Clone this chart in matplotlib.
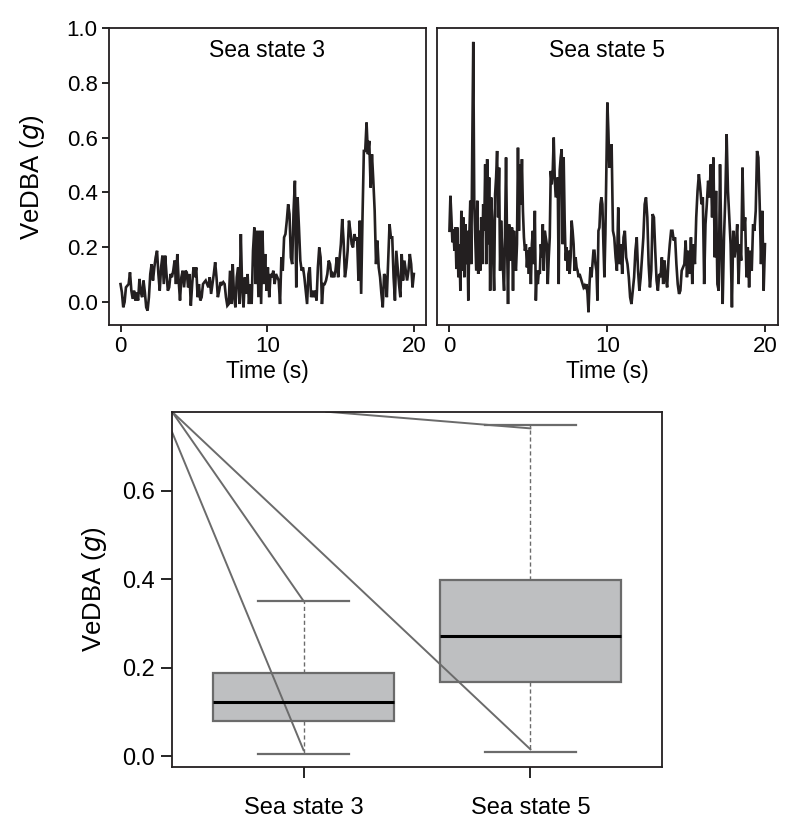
import numpy as np
import matplotlib
matplotlib.use("Agg")
import matplotlib.pyplot as plt

plt.rcParams['font.family'] = ['Liberation Sans', 'DejaVu Sans']

# --- VeDBA time series (g) ---
ss3_vedba = [
    0.064, 0.034, -0.021, -0.002, 0.052, 0.058, 0.064, 0.107, 0.040, 0.010,
    0.040, 0.004, 0.034, 0.004, 0.083, 0.034, 0.016, 0.077, 0.034, -0.021,
    -0.033, 0.016, 0.101, 0.137, 0.077, 0.125, 0.162, 0.186, 0.101, 0.040,
    0.125, 0.168, 0.064, 0.168, 0.101, 0.040, 0.052, 0.101, 0.089, 0.113,
    0.150, 0.064, 0.174, 0.077, 0.004, 0.089, 0.113, 0.052, 0.113, 0.107,
    0.052, 0.101, -0.015, 0.064, 0.125, 0.089, 0.125, 0.016, 0.064, 0.004,
    0.016, 0.064, 0.071, 0.077, 0.064, 0.052, 0.089, 0.028, 0.064, 0.101,
    0.144, 0.089, 0.016, 0.040, 0.071, 0.064, 0.071, 0.064, 0.016, -0.015,
    -0.009, 0.113, -0.009, 0.137, 0.016, -0.021, 0.089, 0.125, -0.009, 0.247,
    0.040, -0.021, 0.089, 0.028, 0.101, -0.009, 0.064, -0.009, 0.186, 0.271,
    0.064, 0.259, 0.016, 0.259, -0.009, 0.259, 0.064, 0.174, 0.040, 0.125,
    0.016, 0.101, 0.089, 0.113, 0.064, 0.101, 0.089, 0.077, -0.009, 0.162,
    0.113, 0.235, 0.247, 0.296, 0.356, 0.320, 0.162, 0.137, 0.332, 0.442,
    0.052, 0.381, 0.271, 0.150, 0.113, 0.125, 0.089, 0.040, -0.009, 0.101,
    0.125, 0.016, 0.040, 0.016, 0.040, 0.004, 0.125, 0.198, 0.162, -0.009,
    0.064, 0.064, 0.077, 0.101, 0.150, 0.137, 0.089, 0.101, 0.089, 0.113,
    0.162, 0.089, 0.156, 0.210, 0.302, 0.223, 0.089, 0.125, 0.186, 0.296,
    0.259, 0.210, 0.198, 0.247, 0.223, 0.235, 0.077, 0.296, 0.028, 0.308,
    0.551, 0.551, 0.655, 0.539, 0.588, 0.417, 0.539, 0.442, 0.332, 0.137,
    0.223, 0.125, 0.089, 0.028, -0.021, 0.101, 0.089, 0.016, 0.150, 0.283,
    0.235, 0.235, 0.089, 0.004, 0.186, 0.125, 0.064, 0.016, 0.174, 0.077,
    0.150, 0.113, 0.077, 0.113, 0.174, 0.137, 0.052, 0.101,
]

# sea state 5, first ~10 s
ss5_vedba_a = [
    0.259, 0.387, 0.308, 0.217, 0.265, 0.186, 0.271, 0.119, 0.271, 0.089,
    0.210, 0.040, 0.332, 0.113, 0.308, 0.089, 0.283, 0.137, 0.259, 0.004,
    0.235, 0.369, 0.137, 0.569, 0.950, 0.356, 0.235, 0.113, 0.369, 0.101,
    0.259, 0.113, 0.308, 0.137, 0.356, 0.259, 0.502, 0.137, 0.521, 0.210,
    0.454, 0.040, 0.381, 0.308, 0.162, 0.040, 0.393, 0.454, 0.551, 0.308,
    0.490, 0.113, 0.296, 0.198, 0.113, 0.040, 0.259, 0.527, 0.223, -0.009,
    0.283, 0.259, 0.150, 0.271, 0.040, 0.259, 0.137, 0.113, 0.210, 0.563,
    0.259, 0.502, 0.356, 0.521, 0.332, 0.235, 0.186, 0.210, 0.125, 0.186,
    0.101, 0.198, 0.064, 0.210, 0.259, 0.137, 0.332, 0.004, 0.113, 0.064,
    0.113, 0.101, 0.210, 0.162, 0.283, 0.113, 0.259, 0.235, 0.210, 0.064,
    0.162, 0.235, 0.478, 0.429, 0.478, 0.600, 0.454, 0.381, 0.417, 0.454,
    0.064, 0.478, 0.527, 0.557, 0.210, 0.527, 0.296, 0.150, 0.198, 0.113,
    0.186, 0.101, 0.162, 0.296, 0.259, 0.210, 0.113, 0.162, 0.125, 0.113,
    0.089, 0.101, 0.089, 0.077, 0.064, 0.052, 0.058, 0.046, 0.064, 0.028,
    -0.039, 0.064, 0.125, 0.089, 0.137, 0.186, 0.186, 0.137, 0.113, 0.004,
    0.259, 0.271, 0.356, 0.381, 0.356, 0.210, 0.089, 0.247, 0.478, 0.728,
    0.624, 0.490, 0.502,
]
# sea state 5, second ~10 s
ss5_vedba_b = [
    0.575, 0.259, 0.235, 0.162, 0.113, 0.344, 0.137, 0.210, 0.101, 0.235,
    0.259, 0.162, 0.137, 0.089, 0.016, -0.009, 0.040, 0.089, 0.186, 0.235,
    0.113, 0.040, 0.089, 0.162, 0.235, 0.356, 0.381, 0.308, 0.137, 0.052,
    0.113, 0.320, 0.308, 0.186, 0.077, 0.040, 0.101, 0.089, 0.162, 0.064,
    0.150, 0.089, 0.052, 0.150, 0.210, 0.259, 0.259, 0.223, 0.235, 0.137,
    0.064, 0.028, 0.040, 0.113, 0.125, 0.137, 0.223, 0.089, 0.186, 0.101,
    0.235, 0.064, 0.210, 0.137, 0.308, 0.405, 0.466, 0.417, 0.356, 0.381,
    0.064, 0.283, 0.356, 0.442, 0.381, 0.502, 0.308, 0.527, 0.162, 0.405,
    0.064, 0.040, 0.502, 0.210, -0.009, 0.235, 0.381, 0.612, 0.405, 0.308,
    0.210, -0.021, 0.259, 0.162, 0.210, 0.283, 0.064, 0.210, 0.150, 0.490,
    0.259, 0.308, 0.089, 0.198, 0.052, 0.186, 0.113, 0.283, 0.259, 0.332,
    0.551, 0.527, 0.356, 0.137, 0.332, 0.040, 0.210,
]

# --- box plot summary (g) ---
groups = ["Sea state 3", "Sea state 5"]
whisker_low = [0.006, 0.010]
q1 = [0.081, 0.167]
median = [0.123, 0.271]
q3 = [0.188, 0.398]
whisker_high = [0.351, 0.749]

t3 = np.linspace(0, 20, len(ss3_vedba))
t5 = np.concatenate([np.linspace(0, 10.2, len(ss5_vedba_a)),
                     np.linspace(10.28, 20.0, len(ss5_vedba_b))])
v5 = ss5_vedba_a + ss5_vedba_b

fig = plt.figure(figsize=(8, 8.3), dpi=100)
ax1 = fig.add_axes([0.136, 0.608, 0.396, 0.358])
ax2 = fig.add_axes([0.546, 0.608, 0.426, 0.358])
ax3 = fig.add_axes([0.215, 0.076, 0.6125, 0.428])

line_col = "#231f20"
for ax, t, v, title in [(ax1, t3, ss3_vedba, "Sea state 3"),
                        (ax2, t5, v5, "Sea state 5")]:
    ax.plot(t, v, color=line_col, lw=1.9, solid_joinstyle="miter")
    ax.set_xlim(-0.8, 20.8)
    ax.set_ylim(-0.087, 1.0)
    ax.set_xticks([0, 10, 20])
    ax.text(0.5, 0.925, title, transform=ax.transAxes, ha="center",
            va="center", fontsize=16.5)
    ax.set_xlabel("Time (s)", fontsize=16.5, labelpad=2)
    ax.tick_params(axis="x", direction="out", length=5, width=1.2,
                   labelsize=16, pad=3)
    for s in ax.spines.values():
        s.set_linewidth(1.3)
        s.set_color(line_col)

ax1.set_yticks([0.0, 0.2, 0.4, 0.6, 0.8, 1.0])
ax1.set_yticklabels(["0.0", "0.2", "0.4", "0.6", "0.8", "1.0"])
ax1.tick_params(axis="y", direction="out", length=5, width=1.2,
                labelsize=16, pad=3)
ax1.set_ylabel("VeDBA ($\\it{g}$)", fontsize=18.5, labelpad=14)
ax2.set_yticks([])

# --- box plot ---
stats = []
for i in range(len(groups)):
    stats.append(dict(whislo=whisker_low[i], q1=q1[i], med=median[i],
                      q3=q3[i], whishi=whisker_high[i], label=groups[i]))
box_edge = "#6b6b6b"
ax3.bxp(stats, positions=[1, 2], widths=0.8, patch_artist=True,
        showfliers=False,
        boxprops=dict(facecolor="#bebfc1", edgecolor=box_edge, lw=1.6),
        medianprops=dict(color="black", lw=2.2),
        whiskerprops=dict(color=box_edge, lw=1.0, ls=(0, (3, 2))),
        capprops=dict(color=box_edge, lw=1.6), capwidths=0.4)

rng = max(whisker_high) - min(whisker_low)
y_lo = min(whisker_low) - 0.04 * rng
y_hi = max(whisker_high) + 0.04 * rng
ax3.set_xlim(0.42, 2.58)
ax3.set_ylim(y_lo, y_hi)

# stray grey lines from the top-left corner to the whisker ends
x0 = 0.42
ax3.plot([x0, 1], [y_hi, whisker_high[0]], color=box_edge, lw=1.4)
ax3.plot([x0, 1], [0.733, whisker_low[0] + 0.008], color=box_edge, lw=1.4)
ax3.plot([x0, 2], [y_hi, whisker_low[1] + 0.006], color=box_edge, lw=1.4)
ax3.plot([1.1, 2], [y_hi, whisker_high[1] - 0.008], color=box_edge, lw=1.4)

ax3.set_yticks([0.0, 0.2, 0.4, 0.6])
ax3.set_yticklabels(["0.0", "0.2", "0.4", "0.6"])
ax3.tick_params(axis="both", direction="out", length=8, width=1.2,
                labelsize=16, pad=4)
ax3.tick_params(axis="x", pad=14)
for lab in ax3.get_xticklabels() + ax3.get_yticklabels():
    lab.set_fontsize(17)
ax3.set_ylabel("VeDBA ($\\it{g}$)", fontsize=18.5, labelpad=10)
for s in ax3.spines.values():
    s.set_linewidth(1.3)
    s.set_color(line_col)

fig.savefig("out.png", dpi=100)
